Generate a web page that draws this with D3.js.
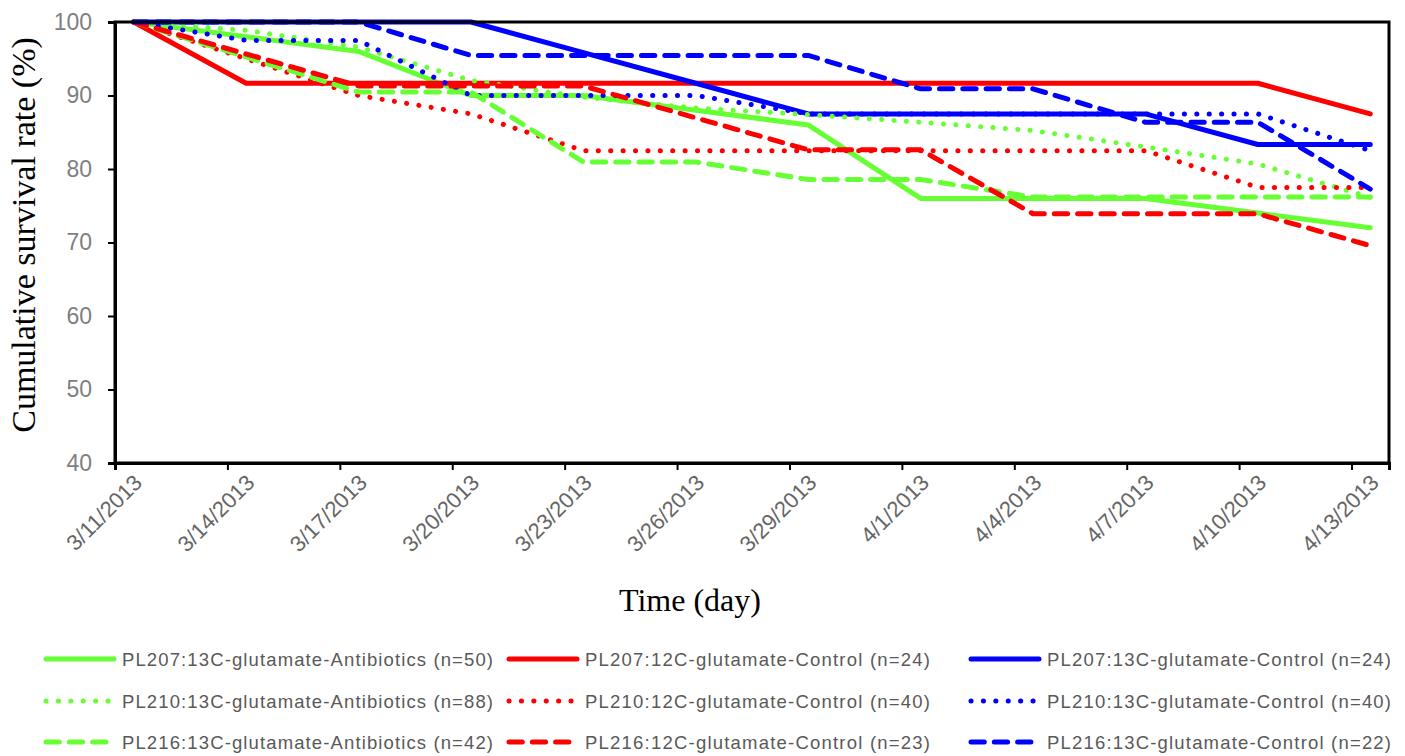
<!DOCTYPE html>
<html>
<head>
<meta charset="utf-8">
<script src="https://cdn.jsdelivr.net/npm/d3@7"></script>
<style>
  body { margin: 0; background: #fff; }
  svg { display: block; }
</style>
</head>
<body>
<div id="container"></div>
<script>
const W = 1405, H = 756;
const plot = { left: 115, right: 1389, top: 22, bottom: 463 };

// observation dates (every 3 days) and the x tick labels
const dates = ['2013-03-11', '2013-03-14', '2013-03-17', '2013-03-20', '2013-03-23', '2013-03-26',
               '2013-03-29', '2013-04-01', '2013-04-04', '2013-04-07', '2013-04-10', '2013-04-13'];
const yTicks = [40, 50, 60, 70, 80, 90, 100];

// cumulative survival (%), one array per series
const pl207Anti13C = [100, 98, 96, 90, 90, 88, 86, 76, 76, 76, 74, 72];
const pl207Ctrl12C = [100, 91.67, 91.67, 91.67, 91.67, 91.67, 91.67, 91.67, 91.67, 91.67, 91.67, 87.5];
const pl207Ctrl13C = [100, 100, 100, 100, 95.83, 91.67, 87.5, 87.5, 87.5, 87.5, 83.33, 83.33];
const pl210Anti13C = [100, 98.86, 96.59, 92.05, 89.77, 88.3, 87.4, 86.36, 85.23, 83.0, 80.68, 76.14];
const pl210Ctrl12C = [100, 95, 90, 87.5, 82.5, 82.5, 82.5, 82.5, 82.5, 82.5, 77.5, 77.5];
const pl210Ctrl13C = [100, 97.5, 97.5, 90, 90, 90, 87.5, 87.5, 87.5, 87.5, 87.5, 82.5];
const pl216Anti13C = [100, 95.24, 90.48, 90.48, 80.95, 80.95, 78.57, 78.57, 76.19, 76.19, 76.19, 76.19];
const pl216Ctrl12C = [100, 95.65, 91.3, 91.3, 91.3, 86.96, 82.61, 82.61, 73.91, 73.91, 73.91, 69.57];
const pl216Ctrl13C = [100, 100, 100, 95.45, 95.45, 95.45, 95.45, 90.91, 90.91, 86.36, 86.36, 77.27];

const seriesNames = [
  'PL207:13C-glutamate-Antibiotics (n=50)', 'PL207:12C-glutamate-Control (n=24)', 'PL207:13C-glutamate-Control (n=24)',
  'PL210:13C-glutamate-Antibiotics (n=88)', 'PL210:12C-glutamate-Control (n=40)', 'PL210:13C-glutamate-Control (n=40)',
  'PL216:13C-glutamate-Antibiotics (n=42)', 'PL216:12C-glutamate-Control (n=23)', 'PL216:13C-glutamate-Control (n=22)'
];
const seriesValues = [pl207Anti13C, pl207Ctrl12C, pl207Ctrl13C,
                      pl210Anti13C, pl210Ctrl12C, pl210Ctrl13C,
                      pl216Anti13C, pl216Ctrl12C, pl216Ctrl13C];

const green = '#66ff33', red = '#ff0000', blue = '#0000ff';
const colors = [green, red, blue, green, red, blue, green, red, blue];
const dashes = [null, null, null, '0.1 12.3', '0.1 12.3', '0.1 12.3', '13.3 10', '13.3 10', '13.3 10'];

const parse = d3.timeParse('%Y-%m-%d');
const dateObjs = dates.map(parse);

const svg = d3.select('#container')
    .append('svg')
    .attr('width', W)
    .attr('height', H);

const xScale = d3.scaleTime()
    .domain([parse('2013-03-11'), parse('2013-04-14')])
    .range([plot.left, plot.right]);

const yScale = d3.scaleLinear()
    .domain([40, 100])
    .range([plot.bottom, plot.top]);

// lines (points sit half a day after each tick, like an Excel date axis)
const line = d3.line()
    .x(d => xScale(d3.timeHour.offset(d.date, 12)))
    .y(d => yScale(d.value));

seriesValues.forEach((vals, i) => {
    const pts = vals.map((v, j) => ({ date: dateObjs[j], value: v }));
    svg.append('path')
        .datum(pts)
        .attr('fill', 'none')
        .attr('stroke', colors[i])
        .attr('stroke-width', 5)
        .attr('stroke-linecap', 'round')
        .attr('stroke-linejoin', 'round')
        .attr('stroke-dasharray', dashes[i])
        .attr('d', line);
});

// frame
svg.append('rect')
    .attr('x', plot.left)
    .attr('y', plot.top)
    .attr('width', plot.right - plot.left)
    .attr('height', plot.bottom - plot.top)
    .attr('fill', 'none')
    .attr('stroke', '#000')
    .attr('stroke-width', 3);

// y axis
const yAxis = svg.append('g')
    .attr('transform', `translate(${plot.left},0)`)
    .call(d3.axisLeft(yScale).tickValues(yTicks).tickSize(7).tickPadding(16));
yAxis.select('.domain').attr('stroke-width', 3);
yAxis.selectAll('.tick line').attr('stroke-width', 2);
yAxis.selectAll('text')
    .attr('fill', '#7f7f7f')
    .style('font-family', 'Liberation Sans, Arial, sans-serif')
    .style('font-size', '23px');

// x axis
const xAxis = svg.append('g')
    .attr('transform', `translate(0,${plot.bottom})`)
    .call(d3.axisBottom(xScale).tickValues(dateObjs).tickSize(7).tickFormat(d3.timeFormat('%-m/%-d/%Y')));
xAxis.select('.domain').attr('stroke-width', 3);
xAxis.selectAll('.tick line').attr('stroke-width', 2);
xAxis.selectAll('text')
    .attr('fill', '#666')
    .attr('text-anchor', 'end')
    .attr('dy', null)
    .attr('y', 0)
    .attr('transform', 'translate(28,21) rotate(-45)')
    .style('font-family', 'Liberation Sans, Arial, sans-serif')
    .style('font-size', '22px');

// axis titles
svg.append('text')
    .attr('transform', `translate(35,235) rotate(-90)`)
    .attr('text-anchor', 'middle')
    .style('font-family', 'Liberation Serif, Times New Roman, serif')
    .style('font-size', '34px')
    .text('Cumulative survival rate (%)');

svg.append('text')
    .attr('x', 690)
    .attr('y', 611)
    .attr('text-anchor', 'middle')
    .style('font-family', 'Liberation Serif, Times New Roman, serif')
    .style('font-size', '32px')
    .text('Time (day)');

// legend, 3 columns x 3 rows
const legendX = [44, 507, 969];
const legendY = [659, 701, 742];
const legendTextW = [371, 345, 344];
seriesNames.forEach((name, i) => {
    const col = i % 3;
    const g = svg.append('g')
        .attr('transform', `translate(${legendX[col]},${legendY[Math.floor(i / 3)]})`);
    g.append('line')
        .attr('x1', 2).attr('x2', 70)
        .attr('stroke', colors[i])
        .attr('stroke-width', 5)
        .attr('stroke-linecap', 'round')
        .attr('stroke-dasharray', dashes[i]);
    g.append('text')
        .attr('x', 78)
        .attr('y', 7)
        .attr('fill', '#595959')
        .attr('textLength', legendTextW[col])
        .attr('lengthAdjust', 'spacing')
        .style('font-family', 'Liberation Sans, Arial, sans-serif')
        .style('font-size', '18.5px')
        .text(name);
});
</script>
</body>
</html>
